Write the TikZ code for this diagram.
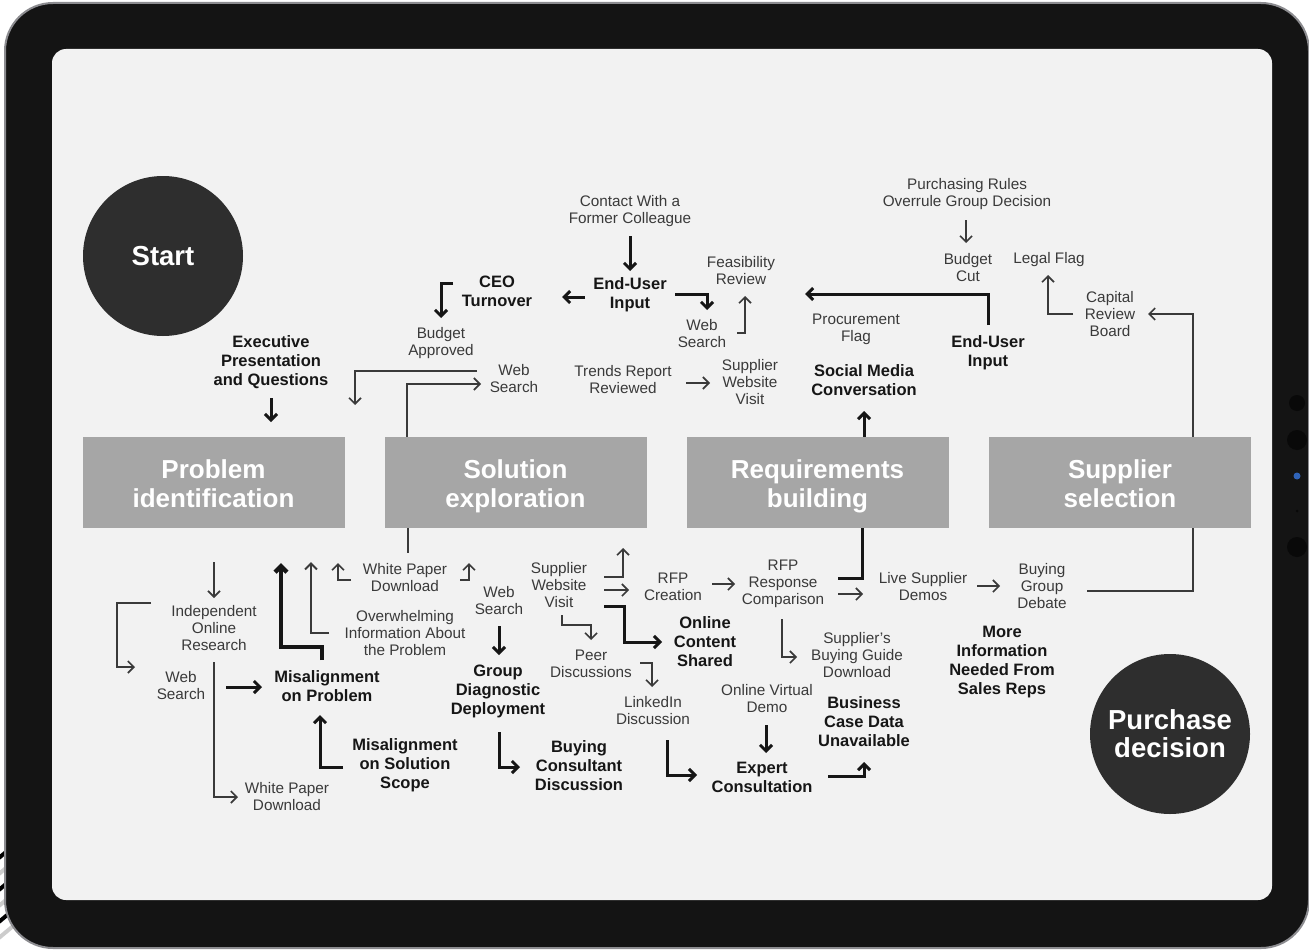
\documentclass[tikz,border=0pt]{standalone}
\usepackage{fontspec}
\setmainfont{Liberation Sans}
\usetikzlibrary{arrows.meta}
\definecolor{ink}{HTML}{161616}
\definecolor{soft}{HTML}{3A3A3A}
\definecolor{body}{HTML}{141414}
\definecolor{rim}{HTML}{8C8C90}
\definecolor{screen}{HTML}{F2F2F2}
\definecolor{stagegrey}{HTML}{A6A6A6}
\definecolor{disc}{HTML}{2E2E2E}
\definecolor{lens}{HTML}{090909}
\definecolor{led}{HTML}{2F63B8}
\tikzset{
  >={Straight Barb[length=6pt, width=12pt]},
  %
  stage/.style={fill=stagegrey, minimum width=262pt, minimum height=91pt,
                inner sep=0pt, align=center, text=white,
                font=\fontsize{26}{29}\selectfont\bfseries,
                text height=60pt, text depth=10pt},
  ends/.style={circle, fill=disc, minimum size=160pt, inner sep=0pt,
               align=center, text=white,
               font=\fontsize{27.5}{28}\selectfont\bfseries},
  %
  lbl/.style={font=\fontsize{15.3}{17}\selectfont, text=soft, align=center, inner sep=2pt},
  lblb/.style={font=\fontsize{16.5}{19}\selectfont\bfseries, text=ink, align=center, inner sep=2pt},
  %
  flow/.style={draw=ink, line width=3pt, ->},
  flowheavy/.style={flow, line width=4.5pt},
  flowthin/.style={draw=soft, line width=1.6pt, ->},
  link/.style={draw=soft, line width=1.6pt},
  linkthick/.style={draw=ink, line width=3pt},
}
\begin{document}
\begin{tikzpicture}[x=1pt, y=-1pt]
  \useasboundingbox (0,0) rectangle (1309,950);

  % tablet
  \foreach \yy/\cc in {862/black, 878/gray!40, 894/black, 910/gray!40, 926/black, 942/gray!40}
    \draw[\cc, line width=4pt] (-6,\yy) -- (30,\yy-30);
  \draw[draw=rim, line width=2pt, fill=body, rounded corners=48pt] (5,3) rectangle (1309,948);
  \fill[screen, rounded corners=14pt] (52,49) rectangle (1272,900);
  \fill[lens] (1297,403) circle (8pt);
  \fill[lens] (1297,440) circle (10pt);
  \fill[led] (1297,476) circle (3.5pt);
  \fill[lens] (1297,511) circle (1.5pt);
  \fill[lens] (1297,547) circle (10pt);

  % stages
  \node[ends] (start) at (163,256) {Start};
  \node[ends] (purchase) at (1170,734) {Purchase\\decision};

  \node[stage] (prob) at (213.5,482.5) {Problem\\identification};
  \node[stage] (sol)  at (515.5,482.5) {Solution\\exploration};
  \node[stage] (req)  at (817.5,482.5) {Requirements\\building};
  \node[stage] (sup)  at (1120,482.5) {Supplier\\selection};

  % above the stages
  \node[lbl]  (contact)  at (630,211) {Contact With a\\Former Colleague};
  \node[lblb] (euA)      at (630,295) {End-User\\Input};
  \node[lblb] (ceo)      at (497,291) {CEO\\Turnover};
  \node[lbl]  (wsA)      at (702,334) {Web\\Search};
  \node[lbl]  (feas)     at (741,271) {Feasibility\\Review};
  \node[lbl]  (proc)     at (856,329) {Procurement\\Flag};
  \node[lblb] (euB)      at (988,353) {End-User\\Input};
  \node[lblb] (social)   at (864,380) {Social Media\\Conversation};
  \node[lbl]  (rules)    at (967,194) {Purchasing Rules\\Overrule Group Decision};
  \node[lbl]  (cut)      at (968,268) {Budget\\Cut};
  \node[lbl]  (legal)    at (1049,260) {Legal Flag};
  \node[lbl]  (capital)  at (1110,314) {Capital\\Review\\Board};
  \node[lblb] (exec)     at (271,362) {Executive\\Presentation\\and Questions};
  \node[lbl]  (approved) at (441,343) {Budget\\Approved};
  \node[lbl]  (wsB)      at (514,379) {Web\\Search};
  \node[lbl]  (trends)   at (623,380) {Trends Report\\Reviewed};
  \node[lbl]  (swA)      at (750,382) {Supplier\\Website\\Visit};

  \draw[flow] (630,236) -- (630,271);
  \draw[flow] (585,297) -- (562,297);
  \draw[flow] (675,294) -| (707,310);
  \draw[flowthin] (737,333) -| (745,296);
  \draw[flow] (988,325) |- (805,294);
  \draw[flow] (864,0 |- req.north) -- (864,411);
  \draw[flowthin] (966,220) -- (966,243);
  \draw[flowthin] (1073,314) -| (1048,275);
  \draw[flowthin] (1193,0 |- sup.north) |- (1148,314);
  \draw[flow] (453,283) -| (441,318);
  \draw[flow] (271,398) -- (271,422);
  \draw[flowthin] (477,371) -| (355,405);
  \draw[flowthin] (407,0 |- sol.north) |- (481,384);
  \draw[flowthin] (686,383) -- (710,383);

  % below the stages
  \node[lbl]  (ior)     at (214,628) {Independent\\Online\\Research};
  \node[lbl]  (wsC)     at (181,686) {Web\\Search};
  \node[lbl]  (wpA)     at (287,797) {White Paper\\Download};
  \node[lblb] (misP)    at (327,686) {Misalignment\\on Problem};
  \node[lbl]  (wpB)     at (405,578) {White Paper\\Download};
  \node[lbl]  (over)    at (405,633) {Overwhelming\\Information About\\the Problem};
  \node[lblb] (misS)    at (405,765) {Misalignment\\on Solution\\Scope};
  \node[lbl]  (wsD)     at (499,601) {Web\\Search};
  \node[lblb] (gdd)     at (498,691) {Group\\Diagnostic\\Deployment};
  \node[lblb] (bcd)     at (579,766) {Buying\\Consultant\\Discussion};
  \node[lbl]  (swB)     at (559,585) {Supplier\\Website\\Visit};
  \node[lbl]  (rfpc)    at (673,587) {RFP\\Creation};
  \node[lbl]  (rfpr)    at (783,584) {RFP\\Response\\Comparison};
  \node[lblb] (ocs)     at (705,642) {Online\\Content\\Shared};
  \node[lbl]  (peer)    at (591,664) {Peer\\Discussions};
  \node[lbl]  (linked)  at (653,711) {LinkedIn\\Discussion};
  \node[lblb] (expert)  at (762,777) {Expert\\Consultation};
  \node[lbl]  (ovd)     at (767,699) {Online Virtual\\Demo};
  \node[lblb] (bcase)   at (864,722) {Business\\Case Data\\Unavailable};
  \node[lbl]  (guide)   at (857,655) {Supplier's\\Buying Guide\\Download};
  \node[lbl]  (live)    at (923,587) {Live Supplier\\Demos};
  \node[lbl]  (debate)  at (1042,586) {Buying\\Group\\Debate};
  \node[lblb] (more)    at (1002,662) {More\\Information\\Needed From\\Sales Reps};

  \draw[flowthin] (214,562) -- (214,598);
  \draw[flowthin] (151,603) -| (117,667) -- (135,667);
  \draw[flowthin] (214,662) |- (238,797);
  \draw[flow] (226,687) -- (262,687);
  \draw[flowheavy] (322,660) |- (281,647) -- (281,563);
  \draw[flowthin, line width=2pt] (329,633) -| (311,562);
  \draw[flowthin] (351,580) -| (338,563);
  \draw[link] (408,0 |- sol.south) -- (408,553);
  \draw[flowthin] (460,580) -| (469,563);
  \draw[flow] (343,767) -| (320,715);
  \draw[flow] (499,626) -- (499,655);
  \draw[flow] (499,732) |- (520,767);
  \draw[flowthin] (604,577) -| (623,548);
  \draw[flowthin] (604,590) -- (629,590);
  \draw[flow] (604,606) -| (624,642) -- (662,642);
  \draw[flowthin] (562,615) |- (591,625) -- (591,640);
  \draw[flowthin] (640,663) -| (652,687);
  \draw[flow] (667,740) |- (697,775);
  \draw[flow] (766,725) -- (766,753);
  \draw[flow] (828,776) -| (864,762);
  \draw[flowthin] (712,584) -- (735,584);
  \draw[flowthin] (782,619) |- (797,657);
  \draw[linkthick] (862,0 |- req.south) |- (838,578);
  \draw[flowthin] (838,594) -- (863,594);
  \draw[flowthin] (977,586) -- (1000,586);
  \draw[link] (1087,591) -| (1193,0 |- sup.south);

\end{tikzpicture}
\end{document}
